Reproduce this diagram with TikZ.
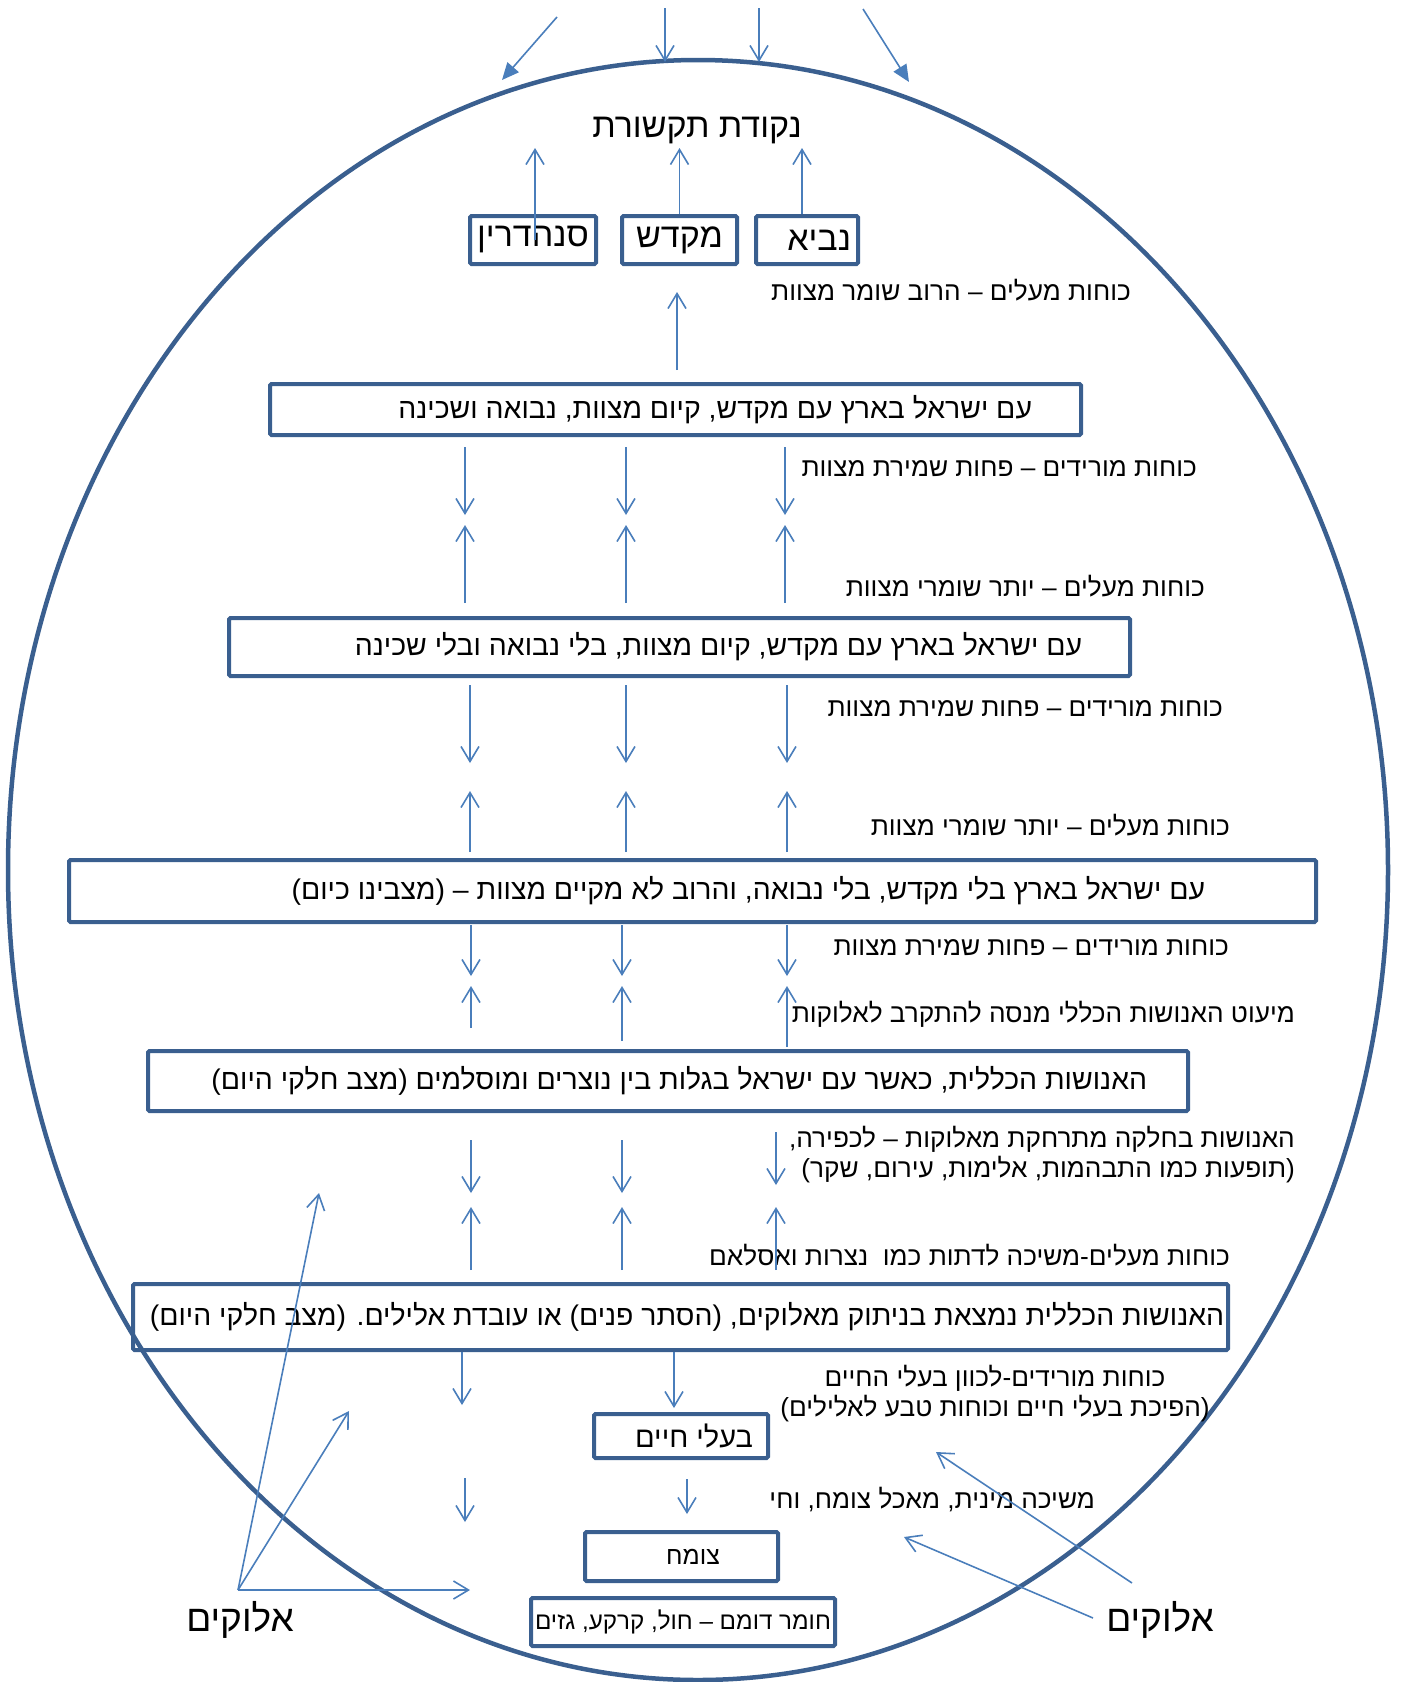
\documentclass[tikz,border=0pt]{standalone}
\usepackage{fontspec}
\usepackage{xcolor}
\usepackage{tikz}
\usetikzlibrary{arrows.meta}
\TeXXeTstate=1
\newfontfamily\hebfont[Script=Hebrew]{Liberation Sans}
\newcommand{\rtl}[1]{\beginR #1\endR}
\definecolor{rim}{HTML}{3A5F8F}
\definecolor{arrowblue}{HTML}{4A7EBB}
\tikzset{
  frame/.style={draw=rim, line width=4pt, rounded corners=1.5pt, inner sep=0pt},
  boxtext/.style={font=\hebfont\fontsize{28.4}{34}\selectfont},
  topword/.style={font=\hebfont\fontsize{34}{40}\selectfont},
  lbl/.style={font=\hebfont\fontsize{26.2}{30}\selectfont, inner sep=0pt, anchor=east},
  arr/.style={draw=arrowblue, line width=1.6pt, -{Straight Barb[length=15pt,width=18pt]}},
  tri/.style={draw=arrowblue, line width=1.6pt, -{Triangle[length=17pt,width=15pt]}, fill=none}
}

\begin{document}
\begin{tikzpicture}[x=1pt, y=-1pt]
            \useasboundingbox (0,0) rectangle (1403,1682);

            % the oval
            \draw[rim, line width=4.5pt] (698,870) ellipse [x radius=690, y radius=810];

            % arrows coming in from above
            \coordinate (inA) at (557,17);
            \coordinate (inB) at (665,8);
            \coordinate (inC) at (759,8);
            \coordinate (inD) at (863,9);
            \draw[tri] (inA) -- (502,80);
            \draw[arr] (inB) -- (665,62);
            \draw[arr] (inC) -- (759,62);
            \draw[tri] (inD) -- (909,82);

            \node[topword, inner sep=0pt] (contact) at (697,131) {\rtl{נקודת תקשורת}};

            \node[frame, topword, minimum width=126, minimum height=48] (sanhedrin) at (533,240) {\rtl{סנהדרין}};
            \node[frame, topword, minimum width=115, minimum height=48] (mikdash) at (679.5,240) {\rtl{מקדש}};
            \node[frame, topword, minimum width=102, minimum height=48, inner xsep=7] (navi) at (807,240) {\makebox[88pt][r]{\rtl{נביא}}};

            \coordinate (top) at (0,148);
            \draw[arr] (535,240) -- (535,148);
            \draw[arr] (mikdash.north) -- (mikdash.north |- top);
            \draw[arr] ([xshift=-5pt]navi.north) -- ([xshift=-5pt]navi.north |- top);

            \node[lbl] (upA) at (1131,290) {\rtl{כוחות מעלים – הרוב שומר מצוות}};
            \draw[arr] (677,370) -- (677,292);

            % the levels
            \node[frame, boxtext, minimum height=51, inner xsep=49] (eretzA) at (675.5,409.5) {\makebox[713pt][r]{\rtl{עם ישראל בארץ עם מקדש, קיום מצוות, נבואה ושכינה}}};
            \node[frame, boxtext, minimum height=58, inner xsep=48] (eretzB) at (679.5,647) {\makebox[805pt][r]{\rtl{עם ישראל בארץ עם מקדש, קיום מצוות, בלי נבואה ובלי שכינה}}};
            \node[frame, boxtext, minimum height=62, inner xsep=111] (eretzC) at (692.5,891) {\makebox[1025pt][r]{\rtl{עם ישראל בארץ בלי מקדש, בלי נבואה, והרוב לא מקיים מצוות – (מצבינו כיום)}}};
            \node[frame, boxtext, minimum height=60, inner xsep=41] (umot) at (668,1081) {\makebox[958pt][r]{\rtl{האנושות הכללית, כאשר עם ישראל בגלות בין נוצרים ומוסלמים (מצב חלקי היום)}}};
            \node[frame, boxtext, minimum height=66, inner xsep=4] (nituk) at (680.5,1317) {\makebox[1087pt][r]{\rtl{האנושות הכללית נמצאת בניתוק מאלוקים, (הסתר פנים) או עובדת אלילים. (מצב חלקי היום)}}};

            \node[lbl] (downA) at (1197,469) {\rtl{כוחות מורידים – פחות שמירת מצוות}};
            \node[lbl] (upB) at (1205,586) {\rtl{כוחות מעלים – יותר שומרי מצוות}};
            \node[lbl] (downB) at (1223,709) {\rtl{כוחות מורידים – פחות שמירת מצוות}};
            \node[lbl] (upC) at (1230,825) {\rtl{כוחות מעלים – יותר שומרי מצוות}};
            \node[lbl] (downC) at (1229,948) {\rtl{כוחות מורידים – פחות שמירת מצוות}};
            \node[lbl] (fewUp) at (1295,1014) {\rtl{מיעוט האנושות הכללי מנסה להתקרב לאלוקות}};
            \node[lbl, align=right] (away) at (1295,1155) {\rtl{האנושות בחלקה מתרחקת מאלוקות – לכפירה,}\\\rtl{(תופעות כמו התבהמות, אלימות, עירום, שקר)}};
            \node[lbl] (religions) at (1230,1255) {\rtl{כוחות מעלים-משיכה לדתות כמו\ \ נצרות ואסלאם}};

            \foreach \x in {465,626,785} {
                \draw[arr] (\x,447) -- (\x,515);
                \draw[arr] (\x,603) -- (\x,525);
            }
            \foreach \x in {470,626,787} {
                \draw[arr] (\x,685) -- (\x,763);
                \draw[arr] (\x,852) -- (\x,791);
            }
            \foreach \x/\y in {471/1028,622/1041,787/1047} {
                \draw[arr] (\x,925) -- (\x,976);
                \draw[arr] (\x,\y) -- (\x,986);
            }
            \foreach \x/\y in {471/1140,622/1140,776/1132} {
                \draw[arr] (\x,\y) -- (\x,\y+53);
                \draw[arr] (\x,1270) -- (\x,1207);
            }

            % below the people of the world
            \draw[arr] (462,1352) -- (462,1405);
            \draw[arr] (674,1352) -- (674,1408);
            \node[lbl, anchor=center, align=center] (animals) at (995,1394) {\rtl{כוחות מורידים-לכוון בעלי החיים}\\\rtl{(הפיכת בעלי חיים וכוחות טבע לאלילים)}};

            \node[frame, font=\hebfont\fontsize{29}{34}\selectfont, minimum height=44, inner xsep=15] (baaley) at (681,1436) {\makebox[144pt][r]{\rtl{בעלי חיים}}};
            \draw[arr] (465,1478) -- (465,1522);
            \draw[arr] (687,1479) -- (687,1514);
            \node[lbl] (drives) at (1095,1500) {\rtl{משיכה מינית, מאכל צומח, וחי}};

            \node[frame, font=\hebfont\fontsize{25}{30}\selectfont, minimum height=49, inner xsep=8] (tzomeach) at (681.5,1556.5) {\makebox[177pt]{\hspace{23pt}\rtl{צומח}}};
            \node[frame, font=\hebfont\fontsize{24.2}{29}\selectfont, minimum width=304, minimum height=48] (domem) at (683,1622) {\rtl{חומר דומם – חול, קרקע, גזים}};

            % elokim
            \node[font=\hebfont\fontsize{37}{43}\selectfont, inner sep=0pt] (godL) at (240,1620) {\rtl{אלוקים}};
            \node[font=\hebfont\fontsize{37}{43}\selectfont, inner sep=0pt] (godR) at (1160,1620) {\rtl{אלוקים}};
            \coordinate (fromL) at (238,1590);
            \draw[arr] (fromL) -- (319,1193);
            \draw[arr] (fromL) -- (349,1411);
            \draw[arr] (fromL) -- (470,1590);
            \coordinate (fromRa) at (1132,1583);
            \coordinate (fromRb) at (1093,1618);
            \draw[arr] (fromRa) -- (936,1452);
            \draw[arr] (fromRb) -- (904,1537);
\end{tikzpicture}
\end{document}
